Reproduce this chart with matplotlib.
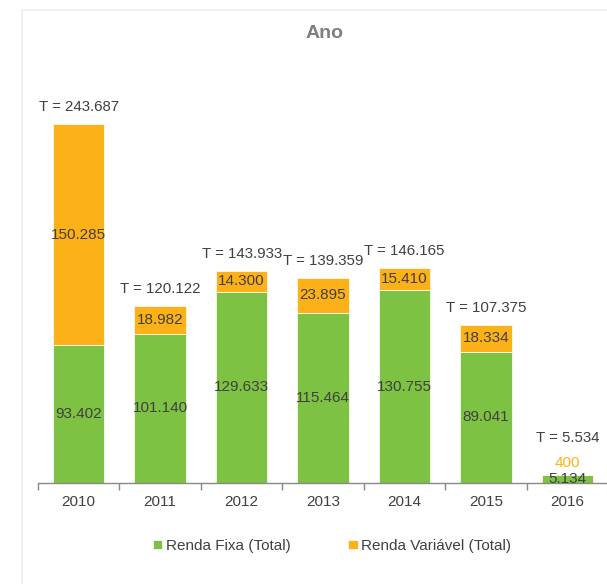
import matplotlib.pyplot as plt
from matplotlib.patches import Rectangle
from matplotlib.ticker import FixedLocator

plt.rcParams['font.family'] = ['Liberation Sans', 'DejaVu Sans']

years = ['2010', '2011', '2012', '2013', '2014', '2015', '2016']
renda_fixa = [93402, 101140, 129633, 115464, 130755, 89041, 5134]
renda_variavel = [150285, 18982, 14300, 23895, 15410, 18334, 400]
totais = [243687, 120122, 143933, 139359, 146165, 107375, 5534]

verde = '#7DC242'
laranja = '#FDB118'
texto = '#404040'


def fmt(v):
    # separador de milhar com ponto
    return '{:,}'.format(v).replace(',', '.')


fig = plt.figure(figsize=(6.07, 5.84), dpi=100)
W, H = 607, 584
ax = fig.add_axes([38 / W, (H - 483) / H, 570 / W, 423 / H])

# moldura clarinha do grafico
fig.patches.append(Rectangle((22 / W, -0.01), 1, 1 - 10 / H + 0.01, transform=fig.transFigure,
                             fill=False, edgecolor='#eeeeee', linewidth=1.2))

x = list(range(len(years)))
ax.bar(x, renda_fixa, width=0.63, color=verde, edgecolor='white', linewidth=0.5,
       label='Renda Fixa (Total)')
ax.bar(x, renda_variavel, width=0.63, bottom=renda_fixa, color=laranja,
       edgecolor='white', linewidth=0.5, label='Renda Variável (Total)')

ax.set_xlim(-0.5, len(years) - 0.5)
ax.set_ylim(0, 287000)
px = 287000 / 423  # unidades por pixel

for i in x:
    f, v, t = renda_fixa[i], renda_variavel[i], totais[i]
    topo = f + v
    ax.text(i, f / 2, fmt(f), ha='center', va='center', fontsize=11, color=texto)
    if v / px < 15:
        ax.text(i, topo + 12 * px, fmt(v), ha='center', va='center', fontsize=11, color=laranja)
        ax.text(i, topo + 37 * px, 'T = ' + fmt(t), ha='center', va='center', fontsize=10.8, color=texto)
    else:
        ax.text(i, f + v / 2, fmt(v), ha='center', va='center', fontsize=11, color=texto)
        ax.text(i, topo + 17 * px, 'T = ' + fmt(t), ha='center', va='center', fontsize=10.8, color=texto)

ax.set_xticks(x)
ax.set_xticklabels(years, fontsize=11, color=texto)
ax.xaxis.set_minor_locator(FixedLocator([i - 0.5 for i in range(len(years) + 1)]))
ax.tick_params(axis='x', which='major', length=0, pad=9)
ax.tick_params(axis='x', which='minor', length=5, color='#898989', width=1)
ax.set_yticks([])
for s in ['left', 'top', 'right']:
    ax.spines[s].set_visible(False)
ax.spines['bottom'].set_color('#898989')
ax.spines['bottom'].set_linewidth(1)

fig.text(325 / W, 1 - 34 / H, 'Ano', ha='center', va='center', fontsize=14,
         fontweight='bold', color='#7f7f7f')

fig.legend(loc='center', bbox_to_anchor=(332 / W, 1 - 546 / H), ncol=2, frameon=False,
           fontsize=11, handlelength=0.6, handleheight=0.6, handletextpad=0.25,
           columnspacing=3.8, labelcolor=texto)

fig.savefig('out.png', dpi=100)
